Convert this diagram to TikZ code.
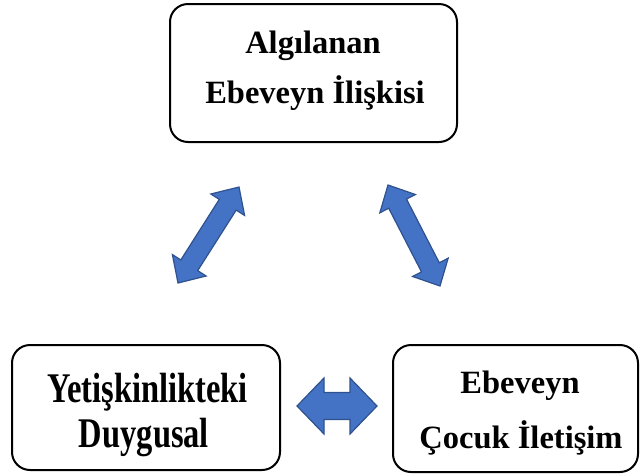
\documentclass[tikz,border=0pt]{standalone}
\usepackage{fontspec}
\setmainfont{Liberation Serif}
\usetikzlibrary{calc}
\definecolor{arrowblue}{HTML}{4472C4}
\definecolor{arrowedge}{HTML}{2F528F}
\tikzset{
  box/.style={draw=black, line width=2pt, rounded corners=18pt, inner sep=0pt},
  lbl/.style={anchor=base, inner sep=0pt, font=\fontsize{32.5}{38}\selectfont\bfseries},
  blockarr/.style={fill=arrowblue, draw=arrowedge, line width=1.2pt, line join=miter}
}
% #1 from, #2 to, #3 half shaft, #4 half head, #5 head length
\newcommand{\blockarrow}[5]{%
  \filldraw[blockarr] (#1)
    -- ($(#1)!#5!(#2)!#4!90:(#2)$)
    -- ($(#1)!#5!(#2)!#3!90:(#2)$)
    -- ($(#2)!#5!(#1)!#3!-90:(#1)$)
    -- ($(#2)!#5!(#1)!#4!-90:(#1)$)
    -- (#2)
    -- ($(#2)!#5!(#1)!#4!90:(#1)$)
    -- ($(#2)!#5!(#1)!#3!90:(#1)$)
    -- ($(#1)!#5!(#2)!#3!-90:(#2)$)
    -- ($(#1)!#5!(#2)!#4!-90:(#2)$)
    -- cycle;}
\begin{document}
\begin{tikzpicture}[x=1pt, y=-1pt]
\useasboundingbox (0,0) rectangle (641,475);
% boxes
\node[box, minimum width=287pt, minimum height=138pt] (top) at (313.5,73) {};
\node[box, minimum width=268pt, minimum height=125pt] (left) at (146,407.5) {};
\node[box, minimum width=245pt, minimum height=127pt] (right) at (515.5,408.5) {};
% texts
\node[lbl] (topA) at (313,53) {Algılanan};
\node[lbl] (topB) at (315,103) {Ebeveyn İlişkisi};
\node[lbl] (leftA) at (147.5,402) {\scalebox{1}[1.3]{Yetişkinlikteki}};
\node[lbl] (leftB) at (144,447) {\scalebox{1}[1.3]{Duygusal}};
\node[lbl] (rightA) at (520,393) {Ebeveyn};
\node[lbl] (rightB) at (521,448) {Çocuk İletişim};
% arrow ends
\coordinate (la) at (178,283);
\coordinate (lb) at (239,187);
\coordinate (ra) at (440,286);
\coordinate (rb) at (388,185);
\coordinate (ha) at (297,406);
\coordinate (hb) at (377,406);
% arrows
\blockarrow{la}{lb}{10pt}{20pt}{21pt}
\blockarrow{ra}{rb}{10pt}{20pt}{21pt}
\blockarrow{ha}{hb}{13.5pt}{28pt}{27pt}
\end{tikzpicture}
\end{document}
